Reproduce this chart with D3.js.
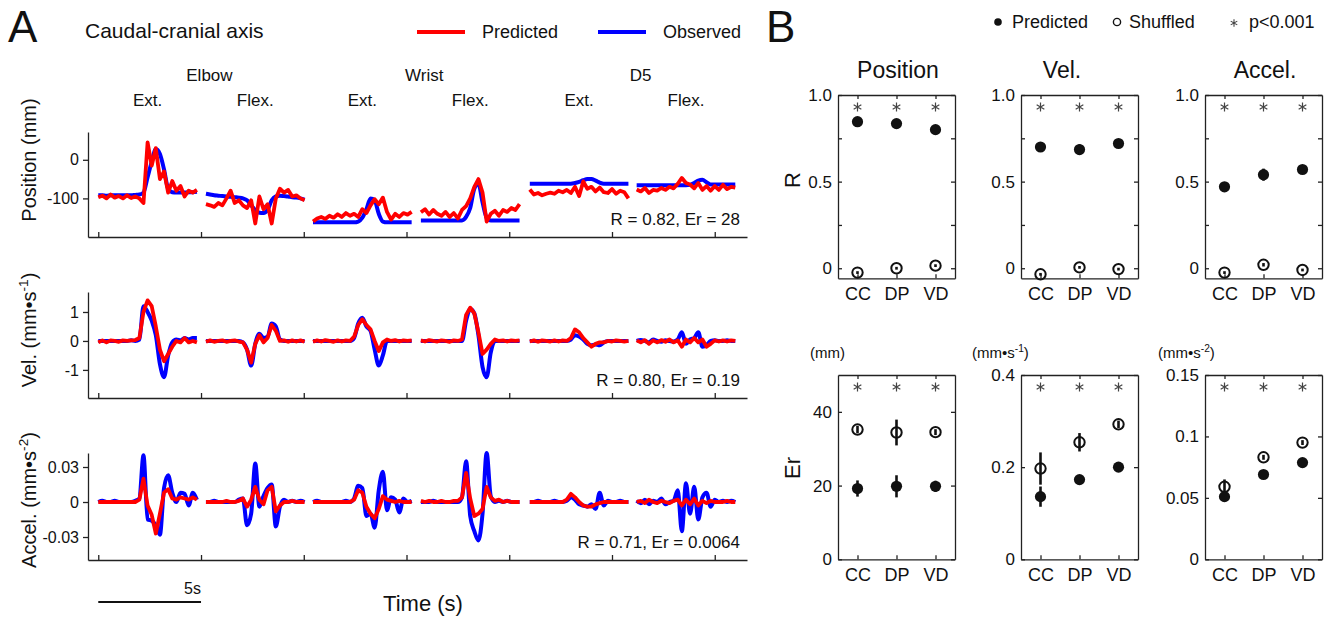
<!DOCTYPE html>
<html>
<head>
<meta charset="utf-8">
<title>Caudal-cranial axis</title>
<script src="https://cdn.jsdelivr.net/npm/d3@7/dist/d3.min.js"></script>
<style>
  body { margin: 0; background: #fff; }
</style>
</head>
<body>
<div id="chart"></div>
<script>
const FONT = '"Liberation Sans", Arial, Helvetica, sans-serif';

// ---------- Panel A data ----------
const segmentStarts = [0, 5.24, 10.45, 15.7, 21.0, 26.2]; // s, start of each movement
const sampleStep = 0.2; // s between samples
const samplesPerSegment = 25;
const joints = ['Elbow', 'Wrist', 'D5'];
const directions = ['Ext.', 'Flex.'];
const timeTicks = [0, 5, 10, 15, 20, 25, 30];

// position (mm)
const posObserved = [
  -92,-92,-93,-92,-92,-92,-92,-92,-92,-91,-90,-85,-45,-5,28,15,-25,-75,-84,-85,-85,-85,-84,-84,-83,
  -88,-90,-92,-93,-94,-95,-96,-97,-98,-100,-105,-118,-130,-137,-138,-130,-105,-95,-93,-94,-95,-97,-98,-100,-103,
  -162,-162,-162,-162,-162,-162,-162,-162,-162,-162,-162,-160,-150,-128,-100,-105,-140,-160,-162,-162,-162,-162,-162,-162,-162,
  -157,-157,-157,-157,-157,-157,-157,-157,-157,-157,-157,-148,-125,-75,-62,-110,-150,-157,-157,-157,-157,-157,-157,-157,-157,
  -62,-62,-62,-62,-62,-62,-62,-62,-62,-62,-62,-60,-57,-53,-50,-50,-54,-59,-62,-62,-62,-62,-62,-62,-62,
  -66,-66,-66,-66,-66,-66,-66,-66,-66,-66,-66,-66,-66,-65,-60,-54,-52,-58,-64,-64,-64,-64,-64,-64,-64
];
const posPredicted = [
  -97,-93,-100,-90,-98,-94,-100,-92,-99,-95,-100,-112,45,-15,30,-50,-30,-85,-55,-80,-68,-95,-80,-85,-78,
  -115,-118,-122,-112,-118,-100,-80,-112,-105,-118,-125,-105,-165,-95,-128,-115,-165,-100,-75,-85,-78,-95,-92,-100,-105,
  -160,-152,-148,-153,-145,-150,-141,-148,-138,-145,-140,-148,-128,-138,-118,-102,-115,-98,-135,-155,-140,-148,-138,-142,-135,
  -136,-128,-142,-130,-140,-145,-135,-148,-138,-152,-130,-120,-100,-70,-50,-85,-160,-140,-132,-145,-130,-135,-125,-130,-115,
  -77,-90,-86,-92,-88,-85,-88,-80,-84,-78,-86,-70,-94,-56,-75,-70,-82,-72,-84,-86,-76,-88,-80,-84,-100,
  -77,-82,-73,-86,-78,-80,-73,-78,-70,-74,-62,-47,-60,-64,-74,-60,-78,-68,-80,-68,-78,-65,-76,-70,-72
];

// velocity (mm/s)
const velObserved = [
  0,0,0,0,0,0,0,0,0.02,0,0.05,1.2,1.0,0.7,0.2,-0.8,-1.25,-0.5,-0.05,0.05,0.02,0.1,0.05,0.1,0.1,
  0,0,0,0,0,0,0,0,0,-0.05,-0.3,-0.85,-0.1,0.25,0.1,0.15,0.6,0.5,0.05,0,0,0,0,0,0,
  0,0,0,0,0,0,0,0,0,0,0.1,0.6,0.8,0.5,0.35,-0.3,-0.85,-0.5,0,0,0,0,0,0,0,
  0,0,0,0,0,0,0,0,0,0,0,0.7,1.1,0.95,0.2,-0.9,-1.25,-0.4,0,0,0,0,0,0,0,
  0,0,0,0,0,0,0,0,0,0,0.05,0.2,0.15,0.05,-0.1,-0.15,-0.12,-0.15,-0.05,0,0,0,0,0,0,
  0,0.03,0,-0.05,0.05,0,-0.03,0.02,0,-0.02,0.05,0.3,-0.1,0.05,0.1,0.3,-0.2,-0.15,0,0.02,0,0,0.02,0,0
];
const velPredicted = [
  -0.05,0.02,-0.05,0.02,0,-0.03,0.02,0,0.02,0.03,0.1,1.0,1.4,1.2,0.5,-0.3,-0.7,-0.45,-0.2,0,-0.05,0.1,-0.05,0,-0.05,
  -0.03,0.02,-0.03,0,0.02,-0.03,0,0.02,-0.02,-0.05,-0.3,-0.75,-0.1,0.2,-0.05,0.1,0.55,0.35,0,0.02,-0.03,0.02,-0.02,0.02,-0.03,
  -0.03,0.02,-0.02,0.03,0,-0.03,0.02,-0.02,0.02,0,0.15,0.55,0.75,0.55,0.4,0,-0.35,-0.05,0.05,0,0.03,-0.02,0.02,0,0.02,
  0.02,-0.02,0.03,0,-0.02,0.02,0,-0.03,0.02,0,0.05,0.9,1.15,0.95,0.3,-0.45,-0.3,-0.1,0.05,0,0.02,-0.02,0.02,0,0.02,
  -0.02,0.02,-0.03,0.02,0,-0.02,0.02,-0.02,0.02,0,0.1,0.4,0.3,0.1,-0.05,-0.2,-0.1,-0.05,-0.05,0,-0.02,0.02,0,-0.02,0,
  0.02,-0.05,0.03,-0.1,0.02,-0.05,0.03,-0.03,0.05,-0.05,0.02,-0.2,0.05,-0.05,0.1,-0.05,0.05,-0.2,-0.1,0.02,-0.02,0.02,-0.02,0.02,0
];

// acceleration (mm/s^2)
const accObserved = [
  0,0.001,0,0,0.001,0,0,0,0,0.001,0.003,0.040,-0.015,-0.016,-0.020,-0.028,0.012,0.023,0.008,0,0.008,0.007,-0.003,0.008,0.002,
  0,0,0.001,0,0,0,0,0,0.002,0.003,-0.020,-0.010,0.033,-0.004,0.005,0.012,0.015,-0.021,-0.004,0.002,0,0.001,0,0.001,0,
  0,0.001,0,0,0,0,0,0,0.001,0,0.003,0.014,0.012,-0.012,-0.010,-0.022,0.010,0.026,-0.007,0.004,0.002,-0.009,0.003,0,0.001,
  0,0,0,0.001,0,0,0,0,0,0,0.004,0.035,-0.012,-0.025,-0.033,-0.010,0.042,0.005,0,0.001,0,0.001,0,0,0,
  0,0,0.001,0,0,0,0.001,0,0,0.001,0.004,0.002,-0.002,-0.003,-0.004,-0.002,-0.006,0.008,-0.003,0.001,0,0,0.001,0,0,
  0.001,-0.001,0.002,-0.002,0.001,0,0.003,-0.002,0,0.001,0.010,-0.025,0.016,-0.010,0.013,-0.015,0.004,0.008,-0.004,0.002,0,0.001,0,0.001,0
];
const accPredicted = [
  0,0,0,0,0,0,0,0,0,0,0.002,0.020,-0.003,-0.011,-0.027,-0.010,0.008,0.011,0.003,0.002,0.004,0.003,0.002,0.004,0.002,
  0,0,0,0,0,0.001,0,0,0.001,0.003,-0.004,0.002,0.013,0.002,-0.002,0.010,0.013,-0.008,-0.003,0,0,0.001,0,0,0,
  0,0,0,0,0,0,0,0,0,0,0.002,0.010,0.008,-0.004,-0.010,-0.014,-0.006,0.005,0.002,0.001,0,0.001,0,0,0,
  0.001,0,0.001,0,0,0.001,0,0,0.001,0.001,0.004,0.025,0.003,-0.012,-0.010,-0.006,0.013,0.004,0.001,0.002,0,0.001,0,0,0,
  0,0,0,0,0,0,0,0,0,0.002,0.007,0.004,0,-0.003,-0.004,-0.004,-0.002,-0.001,0,0,0,0,0,0,0,
  0,0.001,-0.001,0.002,0,-0.001,0.001,0,-0.001,0.001,0.002,-0.003,0.002,-0.002,0.003,-0.003,0.001,-0.001,0.001,0,0,0,0.001,0,0
];

const statR = [0.82, 0.80, 0.71];
const statEr = [28, 0.19, 0.0064];

// ---------- Panel B data ----------
const categories = ['CC', 'DP', 'VD'];
const measures = ['Position', 'Vel.', 'Accel.'];

const rPosPred = [0.846, 0.835, 0.80];
const rPosPredErr = [0.012, 0.012, 0.015];
const rPosShuf = [-0.025, 0.0, 0.015];
const rPosShufErr = [0.008, 0.008, 0.008];

const rVelPred = [0.70, 0.685, 0.72];
const rVelPredErr = [0.012, 0.03, 0.012];
const rVelShuf = [-0.035, 0.005, -0.005];
const rVelShufErr = [0.008, 0.008, 0.008];

const rAccPred = [0.47, 0.54, 0.57];
const rAccPredErr = [0.025, 0.035, 0.015];
const rAccShuf = [-0.025, 0.02, -0.01];
const rAccShufErr = [0.008, 0.01, 0.008];

const erPosPred = [19.2, 19.8, 19.8];
const erPosPredErr = [2.2, 3.0, 1.5];
const erPosShuf = [35.2, 34.4, 34.5];
const erPosShufErr = [1.0, 3.5, 0.8];

const erVelPred = [0.136, 0.173, 0.2];
const erVelPredErr = [0.022, 0.005, 0.005];
const erVelShuf = [0.197, 0.254, 0.293];
const erVelShufErr = [0.035, 0.02, 0.008];

const erAccPred = [0.051, 0.069, 0.0787];
const erAccPredErr = [0.003, 0.0015, 0.0015];
const erAccShuf = [0.059, 0.083, 0.095];
const erAccShufErr = [0.006, 0.002, 0.002];

const rTicks = [0, 0.25, 0.5, 0.75, 1];
const rTickLabels = ['0', '', '0.5', '', '1.0'];
const erPosTicks = [0, 20, 40];
const erVelTicks = [0, 0.2, 0.4];
const erAccTicks = [0, 0.05, 0.1, 0.15];
const erPosTickLabels = ['0', '20', '40'];
const erVelTickLabels = ['0', '0.2', '0.4'];
const erAccTickLabels = ['0', '0.05', '0.1', '0.15'];

// ---------- drawing ----------
const svg = d3.select('#chart').append('svg')
  .attr('width', 1326).attr('height', 619)
  .style('font-family', FONT);

function label(x, y, str, size, anchor = 'start') {
  return svg.append('text')
    .attr('x', x).attr('y', y)
    .attr('font-size', size)
    .attr('text-anchor', anchor)
    .attr('fill', '#111')
    .text(str);
}

// text with superscript parts: [[text, isSup], ...]
function richText(sel, parts, size) {
  let shift = 0;
  parts.forEach(([s, sup]) => {
    const target = sup ? -size * 0.42 : 0;
    sel.append('tspan')
      .attr('dy', target - shift)
      .attr('font-size', sup ? size * 0.68 : size)
      .text(s);
    shift = target;
  });
}

function styleAxis(a, size) {
  a.attr('font-family', FONT).attr('font-size', size);
  a.select('.domain').attr('stroke', '#222').attr('stroke-width', 1.3);
  a.selectAll('.tick line').attr('stroke', '#222').attr('stroke-width', 1.3);
  a.selectAll('.tick text').attr('fill', '#111');
}

// ===== Panel A =====
label(8, 42, 'A', 44);
label(85, 38, 'Caudal-cranial axis', 21);

// legend
const legendA = [
  { name: 'Predicted', color: '#ff0000', x: 417 },
  { name: 'Observed', color: '#0000ff', x: 598 }
];
legendA.forEach(d => {
  svg.append('line')
    .attr('x1', d.x).attr('x2', d.x + 48)
    .attr('y1', 32).attr('y2', 32)
    .attr('stroke', d.color).attr('stroke-width', 3.8);
  label(d.x + 65, 38, d.name, 18);
});

const xA = d3.scaleLinear().domain([-0.5, 31.57]).range([88, 747]);

function toSegments(values) {
  return segmentStarts.map((t0, k) =>
    values.slice(k * samplesPerSegment, (k + 1) * samplesPerSegment)
      .map((v, i) => ({ t: t0 + i * sampleStep, v })));
}

// column headers
const segCenters = segmentStarts.map(t0 => xA(t0 + (samplesPerSegment - 1) * sampleStep / 2));
segCenters.forEach((cx, k) => label(cx, 106, directions[k % 2], 17, 'middle'));
joints.forEach((j, i) => label((segCenters[2 * i] + segCenters[2 * i + 1]) / 2 + 8, 81, j, 17, 'middle'));

const rowsA = [
  { obs: posObserved, pred: posPredicted, domain: [-200, 72], top: 132, bottom: 237,
    ticks: [-100, 0], title: [['Position (mm)', false]], titleY: 160 },
  { obs: velObserved, pred: velPredicted, domain: [-1.97, 1.69], top: 292, bottom: 398,
    ticks: [-1, 0, 1], title: [['Vel. (mm\u2022s', false], ['-1', true], [')', false]], titleY: 330 },
  { obs: accObserved, pred: accPredicted, domain: [-0.0497, 0.042], top: 453, bottom: 560,
    ticks: [-0.03, 0, 0.03], title: [['Accel. (mm\u2022s', false], ['-2', true], [')', false]], titleY: 500 }
];

rowsA.forEach((row, r) => {
  const y = d3.scaleLinear().domain(row.domain).range([row.bottom, row.top]);
  const g = svg.append('g');

  const yAx = g.append('g')
    .attr('transform', `translate(${xA.range()[0]},0)`)
    .call(d3.axisLeft(y).tickValues(row.ticks).tickFormat(d => String(d))
      .tickSize(5).tickSizeOuter(0).tickPadding(4));
  const xAx = g.append('g')
    .attr('transform', `translate(0,${row.bottom})`)
    .call(d3.axisBottom(xA).tickValues(timeTicks).tickFormat('')
      .tickSize(-5).tickSizeOuter(0));
  styleAxis(yAx, 16);
  styleAxis(xAx, 16);

  const smooth = d3.line().x(d => xA(d.t)).y(d => y(d.v)).curve(d3.curveMonotoneX);
  const jagged = d3.line().x(d => xA(d.t)).y(d => y(d.v));

  g.selectAll('path.obs')
    .data(toSegments(row.obs))
    .join('path')
    .attr('class', 'obs')
    .attr('d', smooth)
    .attr('fill', 'none')
    .attr('stroke', '#0000ff')
    .attr('stroke-width', 4)
    .attr('stroke-linejoin', 'round');

  g.selectAll('path.pred')
    .data(toSegments(row.pred))
    .join('path')
    .attr('class', 'pred')
    .attr('d', jagged)
    .attr('fill', 'none')
    .attr('stroke', '#ff0000')
    .attr('stroke-width', 3.8)
    .attr('stroke-linejoin', 'round');

  label(740, row.bottom - 12, `R = ${statR[r].toFixed(2)}, Er = ${statEr[r]}`, 17, 'end');

  const t = svg.append('text')
    .attr('transform', `translate(36,${row.titleY}) rotate(-90)`)
    .attr('text-anchor', 'middle')
    .attr('fill', '#111');
  richText(t, row.title, 20);
});

// scale bar + time label
svg.append('line')
  .attr('x1', xA(0)).attr('x2', xA(5))
  .attr('y1', 602).attr('y2', 602)
  .attr('stroke', '#111').attr('stroke-width', 2.2);
label(xA(5), 594, '5s', 16, 'end');
label(423, 611, 'Time (s)', 22, 'middle');

// ===== Panel B =====
label(766, 42, 'B', 44);

const star = d3.symbolAsterisk || d3.symbolCross;

// legend
svg.append('circle').attr('cx', 998).attr('cy', 22).attr('r', 3.8).attr('fill', '#111');
label(1012, 28, 'Predicted', 18);
svg.append('circle').attr('cx', 1117).attr('cy', 22).attr('r', 3.6)
  .attr('fill', 'none').attr('stroke', '#111').attr('stroke-width', 1.4);
label(1129, 28, 'Shuffled', 18);
svg.append('path').attr('d', d3.symbol(star, 40)()).attr('transform', 'translate(1234,23)')
  .attr('fill', 'none').attr('stroke', '#444').attr('stroke-width', 1.1);
label(1249, 28, 'p<0.001', 18);

const bLeft = [838, 1021, 1205];
const bWidth = 117;
const bRows = [{ top: 95, bottom: 278.3 }, { top: 375, bottom: 559.3 }];
const titleX = [898, 1062, 1265];
measures.forEach((m, i) => label(titleX[i], 78, m, 23, 'middle'));

const cellsB = [
  { row: 0, col: 0, pred: rPosPred, predErr: rPosPredErr, shuf: rPosShuf, shufErr: rPosShufErr,
    domain: [-0.058, 1], ticks: rTicks, tickLabels: rTickLabels },
  { row: 0, col: 1, pred: rVelPred, predErr: rVelPredErr, shuf: rVelShuf, shufErr: rVelShufErr,
    domain: [-0.058, 1], ticks: rTicks, tickLabels: rTickLabels },
  { row: 0, col: 2, pred: rAccPred, predErr: rAccPredErr, shuf: rAccShuf, shufErr: rAccShufErr,
    domain: [-0.058, 1], ticks: rTicks, tickLabels: rTickLabels },
  { row: 1, col: 0, pred: erPosPred, predErr: erPosPredErr, shuf: erPosShuf, shufErr: erPosShufErr,
    domain: [0, 50], ticks: erPosTicks, tickLabels: erPosTickLabels },
  { row: 1, col: 1, pred: erVelPred, predErr: erVelPredErr, shuf: erVelShuf, shufErr: erVelShufErr,
    domain: [0, 0.4], ticks: erVelTicks, tickLabels: erVelTickLabels },
  { row: 1, col: 2, pred: erAccPred, predErr: erAccPredErr, shuf: erAccShuf, shufErr: erAccShufErr,
    domain: [0, 0.15], ticks: erAccTicks, tickLabels: erAccTickLabels }
];

cellsB.forEach(cell => {
  const left = bLeft[cell.col];
  const { top, bottom } = bRows[cell.row];
  const xB = d3.scaleLinear().domain([0.5, 3.5]).range([left, left + bWidth]);
  const y = d3.scaleLinear().domain(cell.domain).range([bottom, top]);
  const g = svg.append('g');
  const pos = [1, 2, 3];

  const axes = [
    g.append('g').attr('transform', `translate(0,${bottom})`)
      .call(d3.axisBottom(xB).tickValues(pos).tickFormat((d, i) => categories[i])
        .tickSize(-4).tickSizeOuter(0).tickPadding(9)),
    g.append('g').attr('transform', `translate(0,${top})`)
      .call(d3.axisTop(xB).tickValues(pos).tickFormat('').tickSize(-4).tickSizeOuter(0)),
    g.append('g').attr('transform', `translate(${left},0)`)
      .call(d3.axisLeft(y).tickValues(cell.ticks).tickFormat((d, i) => cell.tickLabels[i])
        .tickSize(-4).tickSizeOuter(0).tickPadding(6)),
    g.append('g').attr('transform', `translate(${left + bWidth},0)`)
      .call(d3.axisRight(y).tickValues(cell.ticks).tickFormat('').tickSize(-4).tickSizeOuter(0))
  ];
  axes.forEach(a => styleAxis(a, 17));
  axes[0].attr('font-size', 18);

  // significance markers
  g.selectAll('path.sig')
    .data(categories)
    .join('path')
    .attr('class', 'sig')
    .attr('d', d3.symbol(star, 55)())
    .attr('transform', (d, i) => `translate(${xB(i + 1)},${top + 12})`)
    .attr('fill', 'none')
    .attr('stroke', '#444')
    .attr('stroke-width', 1.2);

  const drawSeries = (vals, errs, filled) => {
    g.selectAll(null)
      .data(vals)
      .join('line')
      .attr('x1', (d, i) => xB(i + 1)).attr('x2', (d, i) => xB(i + 1))
      .attr('y1', (d, i) => y(d - errs[i])).attr('y2', (d, i) => y(d + errs[i]))
      .attr('stroke', '#111').attr('stroke-width', 2.6);
    g.selectAll(null)
      .data(vals)
      .join('circle')
      .attr('cx', (d, i) => xB(i + 1))
      .attr('cy', d => y(d))
      .attr('r', filled ? 5.6 : 5.2)
      .attr('fill', filled ? '#111' : 'none')
      .attr('stroke', '#111')
      .attr('stroke-width', filled ? 0 : 2);
  };
  drawSeries(cell.shuf, cell.shufErr, false);
  drawSeries(cell.pred, cell.predErr, true);
});

// row labels and units
const rLab = svg.append('text').attr('transform', 'translate(800,180) rotate(-90)')
  .attr('text-anchor', 'middle').attr('fill', '#111');
richText(rLab, [['R', false]], 22);
const erLab = svg.append('text').attr('transform', 'translate(800,468) rotate(-90)')
  .attr('text-anchor', 'middle').attr('fill', '#111');
richText(erLab, [['Er', false]], 22);

const units = [
  [['(mm)', false]],
  [['(mm\u2022s', false], ['-1', true], [')', false]],
  [['(mm\u2022s', false], ['-2', true], [')', false]]
];
const unitX = [810, 972, 1158];
units.forEach((u, i) => {
  const t = svg.append('text').attr('x', unitX[i]).attr('y', 358).attr('fill', '#111');
  richText(t, u, 15);
});
</script>
</body>
</html>
